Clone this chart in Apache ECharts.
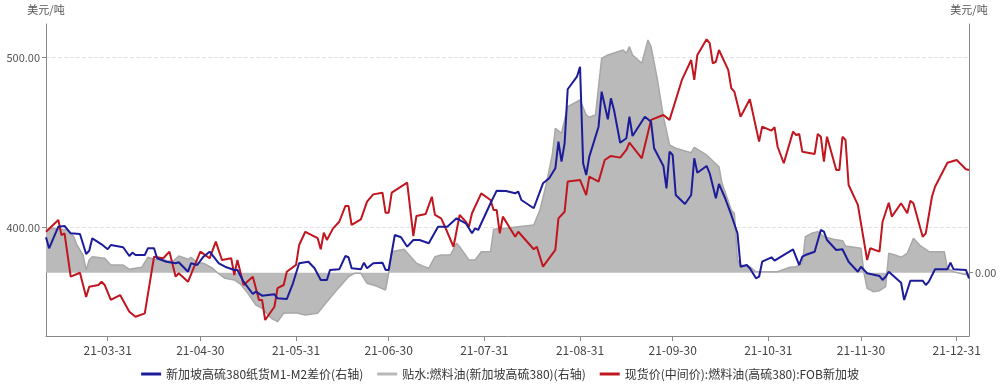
<!DOCTYPE html>
<html>
<head>
<meta charset="utf-8">
<script src="https://cdn.jsdelivr.net/npm/echarts@6/dist/echarts.min.js"></script>
<style>
html,body{margin:0;padding:0;background:#fff;}
#chart{width:1000px;height:386px;}
</style>
</head>
<body>
<div id="chart"></div>
<script>
// ---- data ----
const seriesNames = [
  '新加坡高硫380纸货M1-M2差价(右轴)',
  '贴水:燃料油(新加坡高硫380)(右轴)',
  '现货价(中间价):燃料油(高硫380):FOB新加坡'
];
const xTickDates = ['2021-03-31','2021-04-30','2021-05-31','2021-06-30','2021-07-31','2021-08-31','2021-09-30','2021-10-31','2021-11-30','2021-12-31'];
const leftTicks = [400, 500];
const rightTicks = [0];

// M1-M2 spread (right axis)
const spreadPoints = [
['2021-03-11',5.45],['2021-03-12',3.75],['2021-03-15',7.08],['2021-03-17',7.18],['2021-03-19',6.06],['2021-03-22',5.95],['2021-03-24',2.88],['2021-03-25',3.38],['2021-03-26',5.29],['2021-03-29',4.37],['2021-03-31',3.6],
['2021-04-01',4.26],['2021-04-05',3.91],['2021-04-07',2.57],['2021-04-08',3.08],['2021-04-09',2.72],['2021-04-12',2.72],['2021-04-13',3.75],['2021-04-15',3.75],['2021-04-16',2.22],['2021-04-19',1.69],['2021-04-22',1.45],['2021-04-23',1.6],['2021-04-26',0.15],['2021-04-27',1.45],['2021-04-29',1.18],
['2021-05-01',2.46],['2021-05-03',3.23],['2021-05-06',1.45],['2021-05-08',0.92],['2021-05-11',0.42],['2021-05-12',0.42],['2021-05-14',-1.38],['2021-05-17',-3.28],['2021-05-18',-2.92],['2021-05-20',-3.54],['2021-05-24',-3.32],['2021-05-25',-3.94],['2021-05-28',-4.05],['2021-05-30',-1.63],
['2021-06-01',1.45],['2021-06-04',1.69],['2021-06-06',0.68],['2021-06-08',-1.12],['2021-06-10',-1.12],['2021-06-11',0.42],['2021-06-14',0.52],['2021-06-16',2.57],['2021-06-17',2.37],['2021-06-18',0.68],['2021-06-21',0.52],['2021-06-22',1.54],['2021-06-23',0.68],['2021-06-25',1.45],['2021-06-28',1.54],['2021-06-29',0.42],['2021-06-30',0.42],
['2021-07-02',5.8],['2021-07-04',5.45],['2021-07-06',4.0],['2021-07-08',5.03],['2021-07-10',5.03],['2021-07-13',4.52],['2021-07-16',7.08],['2021-07-19',7.08],['2021-07-22',8.37],['2021-07-25',7.6],['2021-07-27',6.06],['2021-07-28',6.83],['2021-07-29',6.57],
['2021-08-02',10.68],['2021-08-04',12.62],['2021-08-07',12.57],['2021-08-10',12.22],['2021-08-11',12.46],['2021-08-12',11.18],['2021-08-16',9.91],['2021-08-19',13.75],['2021-08-21',14.52],['2021-08-23',16.06],['2021-08-24',20.15],['2021-08-25',17.08],['2021-08-26',19.91],['2021-08-27',28.22],['2021-08-30',30.15],['2021-08-31',31.69],
['2021-09-01',16.83],['2021-09-02',15.03],['2021-09-03',17.85],['2021-09-06',22.46],['2021-09-07',27.85],['2021-09-09',23.6],['2021-09-10',26.83],['2021-09-11',25.03],['2021-09-13',20.0],['2021-09-15',20.68],['2021-09-16',24.0],['2021-09-17',21.03],['2021-09-21',24.0],['2021-09-23',23.23],['2021-09-24',19.14],['2021-09-27',16.42],['2021-09-28',12.98],['2021-09-29',18.62],['2021-09-30',18.11],
['2021-10-01',11.95],['2021-10-04',10.57],['2021-10-06',11.95],['2021-10-07',17.6],['2021-10-08',15.38],['2021-10-11',16.42],['2021-10-12',15.29],['2021-10-14',11.45],['2021-10-15',13.65],['2021-10-17',11.45],['2021-10-19',8.88],['2021-10-21',6.06],['2021-10-22',0.92],['2021-10-24',1.18],['2021-10-25',0.68],['2021-10-27',-0.86],['2021-10-28',-0.62],['2021-10-29',1.69],
['2021-11-01',2.37],['2021-11-02',1.85],['2021-11-08',3.6],['2021-11-10',1.18],['2021-11-11',2.46],['2021-11-12',2.72],['2021-11-15',3.23],['2021-11-17',6.57],['2021-11-18',6.31],['2021-11-19',5.03],['2021-11-22',3.49],['2021-11-24',3.6],['2021-11-26',1.69],['2021-11-29',0.15],['2021-11-30',0.92],
['2021-12-02',-0.09],['2021-12-06',-0.51],['2021-12-07',-1.12],['2021-12-08',-0.62],['2021-12-09',0.15],['2021-12-12',-1.12],['2021-12-13',-1.54],['2021-12-14',-4.2],['2021-12-16',-1.23],['2021-12-20',-1.23],['2021-12-21',-1.89],['2021-12-22',-1.38],['2021-12-24',0.52],['2021-12-28',0.52],['2021-12-29',1.54],['2021-12-30',0.52],
['2022-01-03',0.42],['2022-01-04',-0.86]
];

// Premium (right axis, area)
const premiumPoints = [
['2021-03-11',6.57],['2021-03-13',6.83],['2021-03-18',6.57],['2021-03-20',5.54],['2021-03-21',4.26],['2021-03-23',2.72],['2021-03-24',0.42],['2021-03-25',1.95],['2021-03-26',2.46],['2021-03-30',2.22],
['2021-04-01',1.18],['2021-04-05',1.18],['2021-04-07',0.52],['2021-04-11',0.83],['2021-04-13',2.37],['2021-04-15',2.06],['2021-04-18',1.95],['2021-04-21',1.69],['2021-04-23',2.57],['2021-04-26',2.06],['2021-04-27',2.37],['2021-04-29',1.54],
['2021-05-01',1.45],['2021-05-04',0.68],['2021-05-06',-0.2],['2021-05-08',-0.86],['2021-05-11',-1.12],['2021-05-13',-1.74],['2021-05-15',-2.92],['2021-05-18',-4.97],['2021-05-20',-5.48],['2021-05-23',-7.02],['2021-05-25',-7.54],['2021-05-27',-6.25],['2021-05-31',-6.15],
['2021-06-03',-6.51],['2021-06-07',-6.25],['2021-06-10',-4.46],['2021-06-13',-2.77],['2021-06-17',-0.62],['2021-06-19',-0.09],['2021-06-21',-0.09],['2021-06-22',-0.86],['2021-06-23',-1.63],['2021-06-26',-2.05],['2021-06-29',-2.66],['2021-06-30',-0.09],
['2021-07-01',3.23],['2021-07-05',3.6],['2021-07-09',1.45],['2021-07-11',1.03],['2021-07-13',0.68],['2021-07-15',2.46],['2021-07-17',2.72],['2021-07-20',2.72],['2021-07-22',4.52],['2021-07-23',4.0],['2021-07-26',1.95],['2021-07-28',1.95],['2021-07-30',3.23],
['2021-08-02',3.23],['2021-08-03',6.68],['2021-08-07',6.83],['2021-08-11',7.08],['2021-08-16',7.34],['2021-08-18',9.65],['2021-08-20',13.49],['2021-08-22',18.11],['2021-08-23',22.2],['2021-08-25',21.45],['2021-08-27',25.54],['2021-08-31',26.57],
['2021-09-02',24.26],['2021-09-03',23.91],['2021-09-05',24.26],['2021-09-07',32.98],['2021-09-09',33.49],['2021-09-10',33.65],['2021-09-14',34.26],['2021-09-15',33.75],['2021-09-16',34.77],['2021-09-17',33.49],['2021-09-20',32.22],['2021-09-22',35.8],['2021-09-23',34.77],['2021-09-25',29.91],['2021-09-27',24.0],['2021-09-29',19.65],
['2021-10-01',19.14],['2021-10-06',18.46],['2021-10-07',19.29],['2021-10-11',18.11],['2021-10-15',16.31],['2021-10-16',13.75],['2021-10-19',9.65],['2021-10-20',9.14],['2021-10-21',1.95],['2021-10-22',1.18],['2021-10-25',0.92],['2021-10-27',0.15],
['2021-11-03',0.15],['2021-11-07',0.83],['2021-11-09',0.92],['2021-11-11',1.45],['2021-11-12',5.54],['2021-11-14',6.06],['2021-11-16',6.31],['2021-11-18',5.54],['2021-11-21',5.14],['2021-11-24',4.92],['2021-11-25',4.11],['2021-11-30',3.75],
['2021-12-01',-0.09],['2021-12-02',-2.4],['2021-12-04',-2.92],['2021-12-06',-2.77],['2021-12-08',-2.15],['2021-12-09',2.98],['2021-12-11',2.72],['2021-12-13',2.37],['2021-12-15',2.98],['2021-12-17',5.29],['2021-12-19',4.26],['2021-12-22',3.23],['2021-12-27',3.23],['2021-12-28',0.68],['2021-12-30',0.15],
['2022-01-02',-0.2],['2022-01-04',-0.35]
];

// Spot price (left axis)
const spotPoints = [
['2021-03-11',397.6],['2021-03-15',404.5],['2021-03-16',395.7],['2021-03-17',396.7],['2021-03-19',371.2],['2021-03-22',373.5],['2021-03-24',359.2],['2021-03-25',365.3],['2021-03-28',366.3],['2021-03-29',368.2],['2021-03-30',366.3],
['2021-04-01',357.5],['2021-04-04',360.4],['2021-04-07',350.6],['2021-04-09',347.6],['2021-04-12',349.6],['2021-04-15',382.9],['2021-04-18',382.0],['2021-04-20',385.9],['2021-04-22',371.2],['2021-04-23',373.2],['2021-04-26',368.2],['2021-04-28',377.1],['2021-04-30',385.9],
['2021-05-03',382.0],['2021-05-05',391.8],['2021-05-07',381.0],['2021-05-10',382.0],['2021-05-11',372.2],['2021-05-12',381.0],['2021-05-14',366.3],['2021-05-17',371.2],['2021-05-19',357.5],['2021-05-20',357.5],['2021-05-21',345.7],['2021-05-24',353.5],['2021-05-25',364.4],['2021-05-27',366.3],['2021-05-28',374.1],['2021-05-31',378.1],
['2021-06-01',389.8],['2021-06-03',397.6],['2021-06-07',393.8],['2021-06-08',387.3],['2021-06-09',397.1],['2021-06-10',392.8],['2021-06-12',399.6],['2021-06-14',403.5],['2021-06-16',412.8],['2021-06-17',412.8],['2021-06-18',401.6],['2021-06-21',404.9],['2021-06-23',415.3],['2021-06-25',419.6],['2021-06-28',420.6],['2021-06-29',408.8],['2021-06-30',408.8],
['2021-07-01',420.6],['2021-07-06',426.5],['2021-07-08',395.1],['2021-07-09',406.9],['2021-07-12',408.1],['2021-07-14',418.2],['2021-07-15',407.5],['2021-07-17',405.5],['2021-07-18',401.6],['2021-07-21',388.8],['2021-07-23',407.5],['2021-07-25',403.5],['2021-07-26',400.6],['2021-07-27',408.5],['2021-07-30',420.2],
['2021-08-02',416.3],['2021-08-03',410.4],['2021-08-04',410.4],['2021-08-05',396.7],['2021-08-06',406.5],['2021-08-10',394.7],['2021-08-11',397.6],['2021-08-16',387.3],['2021-08-17',388.8],['2021-08-19',377.1],['2021-08-23',386.9],['2021-08-24',405.5],['2021-08-26',409.4],['2021-08-27',427.1],['2021-08-31',428.1],
['2021-09-02',419.2],['2021-09-03',430.0],['2021-09-06',427.1],['2021-09-08',439.8],['2021-09-10',442.2],['2021-09-13',441.2],['2021-09-15',445.7],['2021-09-16',450.0],['2021-09-20',440.8],['2021-09-23',463.4],['2021-09-27',466.3],['2021-09-29',463.4],
['2021-10-03',486.9],['2021-10-06',498.6],['2021-10-07',486.9],['2021-10-08',501.6],['2021-10-11',510.8],['2021-10-12',508.5],['2021-10-13',496.7],['2021-10-14',497.6],['2021-10-15',504.5],['2021-10-18',492.8],['2021-10-19',482.0],['2021-10-20',480.0],['2021-10-22',465.3],['2021-10-25',475.5],['2021-10-28',450.6],['2021-10-29',459.4],
['2021-11-01',457.1],['2021-11-02',459.1],['2021-11-03',447.6],['2021-11-05',437.9],['2021-11-08',456.5],['2021-11-09',454.5],['2021-11-10',455.1],['2021-11-11',444.7],['2021-11-15',443.4],['2021-11-16',455.1],['2021-11-17',453.5],['2021-11-18',438.8],['2021-11-19',453.5],['2021-11-22',433.9],['2021-11-23',433.9],['2021-11-24',453.5],['2021-11-25',451.6],['2021-11-26',425.1],['2021-11-29',413.4],
['2021-12-02',381.0],['2021-12-03',387.9],['2021-12-06',385.9],['2021-12-07',403.5],['2021-12-09',414.7],['2021-12-10',406.5],['2021-12-13',414.4],['2021-12-15',408.5],['2021-12-16',415.9],['2021-12-17',414.4],['2021-12-20',394.7],['2021-12-21',396.7],['2021-12-23',418.2],['2021-12-24',424.1],['2021-12-28',438.2],['2021-12-31',439.8],
['2022-01-03',434.4],['2022-01-04',433.9]
];

// ---- chart ----
function ts(s){ const p = s.split('-'); return new Date(+p[0], +p[1]-1, +p[2]).getTime(); }
function fmtDate(v){
  const d = new Date(v);
  const yy = String(d.getFullYear()).slice(2);
  const mm = String(d.getMonth()+1).padStart(2,'0');
  const dd = String(d.getDate()).padStart(2,'0');
  return yy + '-' + mm + '-' + dd;
}
const toTs = arr => arr.map(p => [ts(p[0]), p[1]]);
const xTickValues = xTickDates.map(ts);

const chart = echarts.init(document.getElementById('chart'), null, {renderer:'canvas'});
const fontFamily = '"Noto Sans CJK SC","Noto Sans",sans-serif';
chart.setOption({
  animation: false,
  textStyle: {fontFamily: fontFamily},
  grid: {left: 46, right: 31, top: 24, bottom: 50, containLabel: false},
  legend: {
    bottom: 1, left: 'center',
    icon: 'rect', itemWidth: 20, itemHeight: 3, itemGap: 14,
    textStyle: {fontSize: 12, color: '#333', fontFamily: fontFamily},
    data: seriesNames
  },
  xAxis: {
    type: 'value', scale: true,
    min: ts('2021-03-11'), max: ts('2022-01-04'),
    axisLine: {show: true, onZero: false, lineStyle: {color: '#888', width: 1}},
    axisTick: {show: true, length: 5, lineStyle: {color: '#888'}, customValues: xTickValues},
    axisLabel: {color: '#444', fontSize: 12, margin: 8, customValues: xTickValues, formatter: v => fmtDate(v), hideOverlap: false},
    splitLine: {show: false}
  },
  yAxis: [
    {
      type: 'value', position: 'left',
      min: 336.3, max: 519.8,
      name: '美元/吨', nameLocation: 'end', nameGap: 9,
      nameTextStyle: {color: '#555', fontSize: 11, align: 'center', fontFamily: fontFamily},
      axisLine: {show: true, lineStyle: {color: '#888', width: 1}},
      axisTick: {show: true, length: 4, lineStyle: {color: '#888'}, customValues: leftTicks},
      axisLabel: {color: '#555', fontSize: 11, margin: 6, customValues: leftTicks, formatter: v => Number(v).toFixed(2)},
      splitLine: {show: true, lineStyle: {color: '#e3e3e3', type: 'dashed', width: 1}}
    },
    {
      type: 'value', position: 'right',
      min: -9.74, max: 38.26,
      name: '美元/吨', nameLocation: 'end', nameGap: 9,
      nameTextStyle: {color: '#555', fontSize: 11, align: 'center', fontFamily: fontFamily},
      axisLine: {show: true, lineStyle: {color: '#888', width: 1}},
      axisTick: {show: true, length: 4, lineStyle: {color: '#888'}, customValues: rightTicks},
      axisLabel: {color: '#555', fontSize: 11, margin: 6, customValues: rightTicks, formatter: v => Number(v).toFixed(2)},
      splitLine: {show: false}
    }
  ],
  series: [
    {
      name: seriesNames[0], type: 'line', yAxisIndex: 1, z: 3,
      data: toTs(spreadPoints), showSymbol: false, symbol: 'none',
      lineStyle: {color: '#1c1c9a', width: 2}, itemStyle: {color: '#1c1c9a'}
    },
    {
      name: seriesNames[1], type: 'line', yAxisIndex: 1, z: 1,
      data: toTs(premiumPoints), showSymbol: false, symbol: 'none',
      lineStyle: {color: '#a8a8a8', width: 1.5}, itemStyle: {color: '#b8b8b8'},
      areaStyle: {color: '#bababa', opacity: 1}
    },
    {
      name: seriesNames[2], type: 'line', yAxisIndex: 0, z: 2,
      data: toTs(spotPoints), showSymbol: false, symbol: 'none',
      lineStyle: {color: '#c0161f', width: 2}, itemStyle: {color: '#c0161f'}
    }
  ]
});
</script>
</body>
</html>
